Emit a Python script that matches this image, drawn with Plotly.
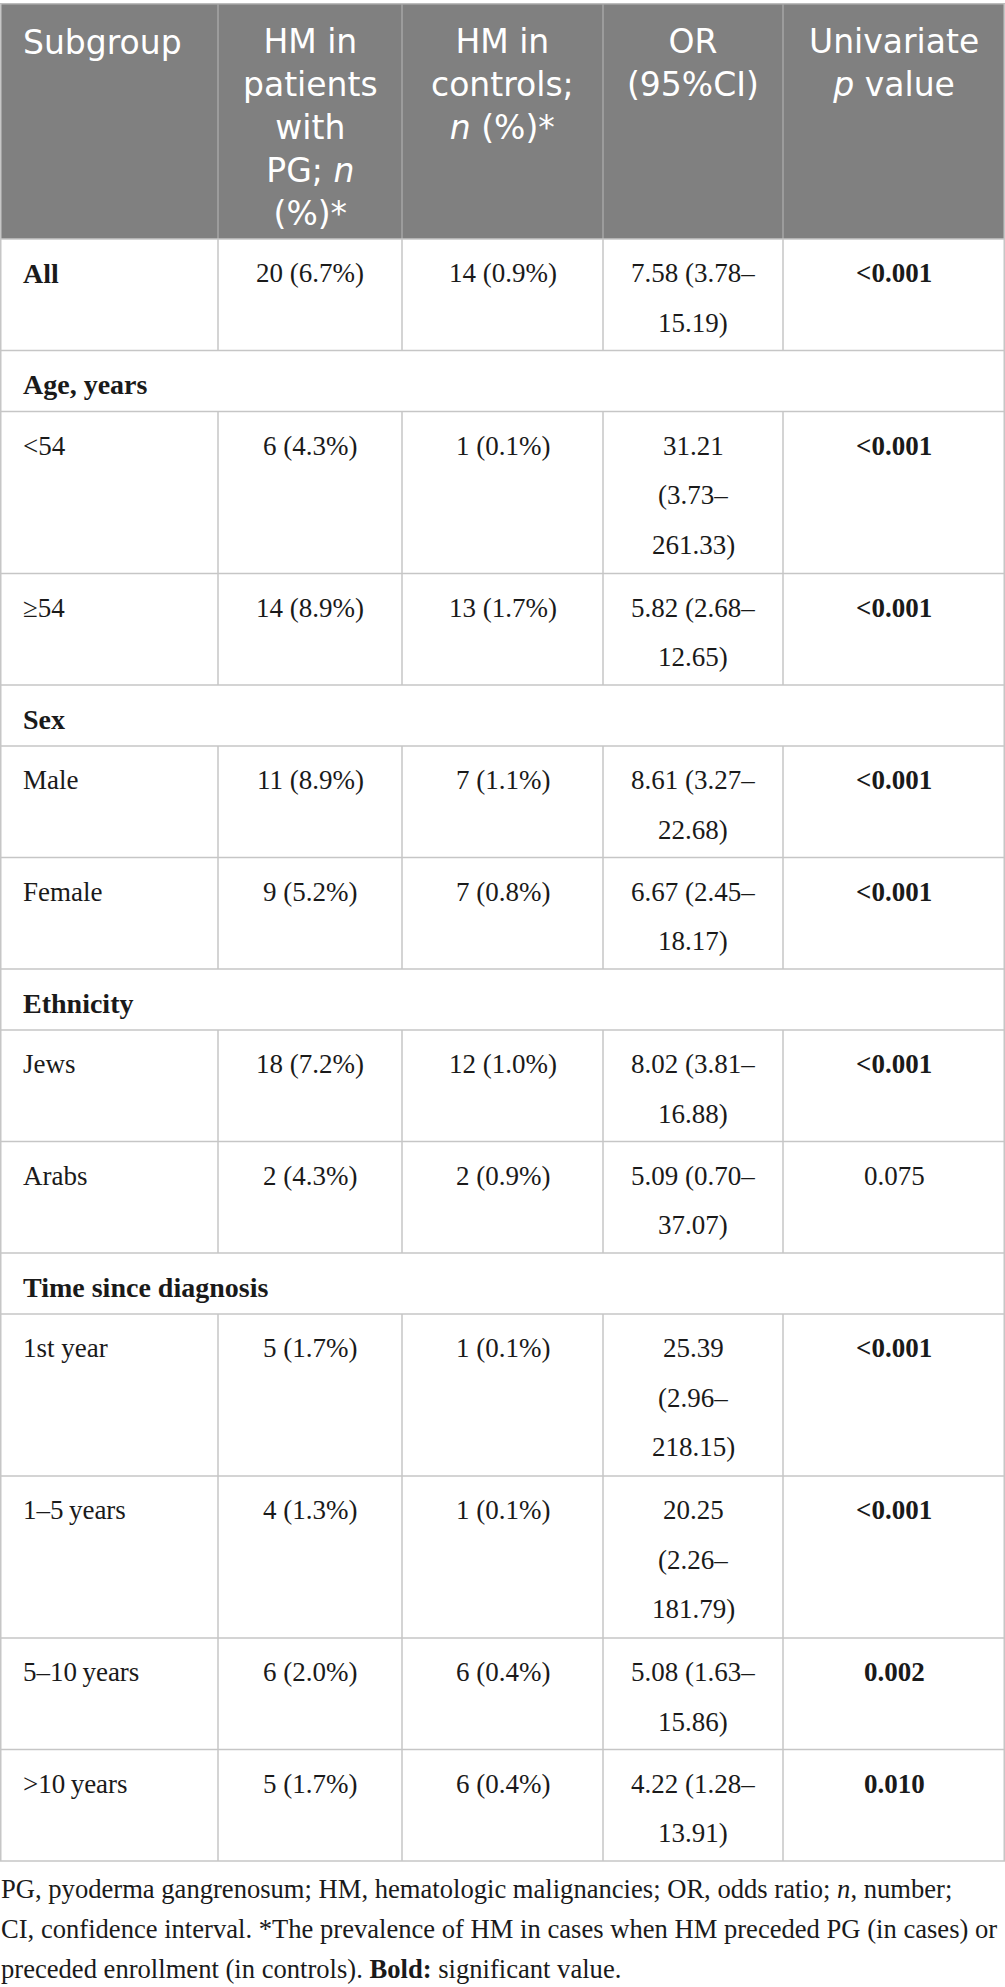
import html
import plotly.graph_objects as go

W, H = 1005, 1987

# ---------------- data ----------------
header = [
    ["Subgroup"],
    ["HM in", "patients", "with", "PG; <i>n</i>", "(%)*"],
    ["HM in", "controls;", "<i>n</i> (%)*"],
    ["OR", "(95%CI)"],
    ["Univariate", "<i>p</i> value"],
]

subgroups = ["All", "Age, years", "<54", "≥54", "Sex", "Male", "Female",
             "Ethnicity", "Jews", "Arabs", "Time since diagnosis",
             "1st year", "1–5\u2009years", "5–10\u2009years", ">10\u2009years"]
is_section = [False, True, False, False, True, False, False,
              True, False, False, True, False, False, False, False]
label_bold = [True, True, False, False, True, False, False,
              True, False, False, True, False, False, False, False]
hm_cases = ["20 (6.7%)", "", "6 (4.3%)", "14 (8.9%)", "", "11 (8.9%)", "9 (5.2%)",
            "", "18 (7.2%)", "2 (4.3%)", "", "5 (1.7%)", "4 (1.3%)", "6 (2.0%)", "5 (1.7%)"]
hm_controls = ["14 (0.9%)", "", "1 (0.1%)", "13 (1.7%)", "", "7 (1.1%)", "7 (0.8%)",
               "", "12 (1.0%)", "2 (0.9%)", "", "1 (0.1%)", "1 (0.1%)", "6 (0.4%)", "6 (0.4%)"]
or_ci = [["7.58 (3.78–", "15.19)"], [], ["31.21", "(3.73–", "261.33)"],
         ["5.82 (2.68–", "12.65)"], [], ["8.61 (3.27–", "22.68)"],
         ["6.67 (2.45–", "18.17)"], [], ["8.02 (3.81–", "16.88)"],
         ["5.09 (0.70–", "37.07)"], [], ["25.39", "(2.96–", "218.15)"],
         ["20.25", "(2.26–", "181.79)"], ["5.08 (1.63–", "15.86)"],
         ["4.22 (1.28–", "13.91)"]]
p_values = ["<0.001", "", "<0.001", "<0.001", "", "<0.001", "<0.001",
            "", "<0.001", "0.075", "", "<0.001", "<0.001", "0.002", "0.010"]
p_bold = [True, False, True, True, False, True, True,
          False, True, False, False, True, True, True, True]

footnote = [
    "PG, pyoderma gangrenosum; HM, hematologic malignancies; OR, odds ratio; <i>n</i>, number;",
    "CI, confidence interval. *The prevalence of HM in cases when HM preceded PG (in cases) or",
    "preceded enrollment (in controls). <b>Bold:</b> significant value.",
]

# ---------------- layout geometry ----------------
col_edges = [0, 218, 402, 603, 783, W]
table_top = 4
header_h = 235
row_pitch = 50.5        # row height per text line
row_pad = 10.5
text_pitch = 49.5       # distance between wrapped lines inside a cell
first_glyph = 34        # centre of first text line below row top
label_x = 22

HEADER_BG = "#808080"
HEADER_SEP = "#a6a6a6"
GRID = "#c6c6c6"
TXT = "#1a1a1a"
SERIF = "Liberation Serif"
SANS = "DejaVu Sans"
BODY_SIZE = 27
LABEL_BOLD_SIZE = 28
HDR_SIZE = 33
FOOT_SIZE = 26.6
LINE_SP = 1.3           # plotly line spacing for <br>

shapes = []
ann = []


def hline(y, x0=0, x1=W, color=GRID, w=1.5):
    shapes.append(dict(type="line", x0=x0, x1=x1, y0=y, y1=y,
                       line=dict(color=color, width=w), layer="above"))


def vline(x, y0, y1, color=GRID, w=1.5):
    shapes.append(dict(type="line", x0=x, x1=x, y0=y0, y1=y1,
                       line=dict(color=color, width=w), layer="above"))


def esc(s):
    return s if ("<i>" in s or "<b>" in s) else html.escape(s, quote=False)


def text(x, yc, s, size, family, color, anchor="center", bold=False, align="left"):
    ann.append(dict(x=x, y=yc, xref="x", yref="y",
                    text="<b>" + s + "</b>" if bold else s,
                    showarrow=False, borderpad=0, align=align,
                    xanchor=anchor, yanchor="middle",
                    font=dict(family=family, size=size, color=color)))


# header block
hdr_bottom = table_top + header_h
shapes.append(dict(type="rect", x0=0, x1=W, y0=table_top, y1=hdr_bottom,
                   fillcolor=HEADER_BG, line=dict(width=0), layer="below"))
hdr_first = table_top + 38
hp = LINE_SP * HDR_SIZE
for ci, lines in enumerate(header):
    block = "<br>".join(esc(s) for s in lines)
    yc = hdr_first + (len(lines) - 1) * hp / 2
    if ci == 0:
        text(label_x, yc, block, HDR_SIZE, SANS, "white", anchor="left")
    else:
        cx = (col_edges[ci] + col_edges[ci + 1]) / 2
        text(cx, yc, block, HDR_SIZE, SANS, "white", align="center")
for x in col_edges[1:-1]:
    vline(x, table_top, hdr_bottom, color=HEADER_SEP)
hline(table_top, color=HEADER_SEP)

# body rows
y = hdr_bottom
for i in range(len(subgroups)):
    n = max(1, len(or_ci[i]))
    h = row_pad + row_pitch * n
    top = y
    yc = top + first_glyph
    lsize = LABEL_BOLD_SIZE if label_bold[i] else BODY_SIZE
    text(label_x, yc, esc(subgroups[i]), lsize, SERIF, TXT, anchor="left", bold=label_bold[i])
    if not is_section[i]:
        text((col_edges[1] + col_edges[2]) / 2, yc, esc(hm_cases[i]), BODY_SIZE, SERIF, TXT)
        text((col_edges[2] + col_edges[3]) / 2, yc, esc(hm_controls[i]), BODY_SIZE, SERIF, TXT)
        for li, s in enumerate(or_ci[i]):
            text((col_edges[3] + col_edges[4]) / 2, yc + li * text_pitch, esc(s), BODY_SIZE, SERIF, TXT)
        text((col_edges[4] + col_edges[5]) / 2, yc, esc(p_values[i]), BODY_SIZE, SERIF, TXT, bold=p_bold[i])
        for x in col_edges[1:-1]:
            vline(x, top, top + h)
    y = top + h
    hline(y)
table_bottom = y
hline(hdr_bottom)
vline(0.75, table_top, table_bottom)
vline(W - 0.75, table_top, table_bottom)

# footnote
foot_first = table_bottom + 28
for li, s in enumerate(footnote):
    text(0, foot_first + li * 40, s, FOOT_SIZE, SERIF, TXT, anchor="left")

fig = go.Figure()
fig.update_layout(
    width=W, height=H,
    margin=dict(l=0, r=0, t=0, b=0),
    paper_bgcolor="white", plot_bgcolor="white",
    xaxis=dict(range=[0, W], visible=False, fixedrange=True),
    yaxis=dict(range=[H, 0], visible=False, fixedrange=True),
    shapes=shapes, annotations=ann, showlegend=False,
)
fig.write_html(
    "out.html",
    config={"displayModeBar": False},
    post_script="document.body.style.margin='0';document.body.style.overflow='hidden';",
)
